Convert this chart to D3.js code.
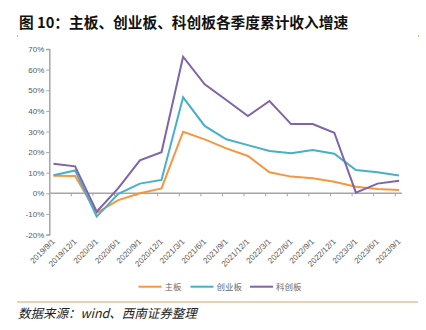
<!DOCTYPE html>
<html><head><meta charset="utf-8">
<script src="https://cdn.jsdelivr.net/npm/d3@7/dist/d3.min.js"></script>
<style>body{margin:0;background:#fff}svg{display:block}</style>
</head><body>
<svg id="c" width="426" height="330"></svg>
<script>
const categories = ["2019/9/1","2019/12/1","2020/3/1","2020/6/1","2020/9/1","2020/12/1","2021/3/1","2021/6/1","2021/9/1","2021/12/1","2022/3/1","2022/6/1","2022/9/1","2022/12/1","2023/3/1","2023/6/1","2023/9/1"];
const mainBoard = [8.5,8.4,-9.5,-3.3,0.0,2.4,29.9,26.2,21.8,18.1,10.2,8.1,7.3,5.6,3.2,2.1,1.6];
const chinext   = [8.8,11.1,-11.3,-0.3,4.7,6.5,46.6,32.7,26.2,23.4,20.5,19.4,21.0,19.2,11.3,10.2,8.6];
const star      = [14.4,13.1,-8.9,2.5,16.0,19.9,66.3,52.9,45.3,37.5,44.8,33.6,33.6,29.4,0.3,4.7,6.1];
const yTicks = [-20,-10,0,10,20,30,40,50,60,70];
const seriesNames = ["主板","创业板","科创板"];
const colors = ["#F7963F","#47AFCB","#8063A8"];

const svg = d3.select("#c");
const x = d3.scalePoint().domain(categories).range([53.5,399.1]);
const y = d3.scaleLinear().domain([-20,70]).range([234.5,49.1]);
const step = x.step();

// title
svg.append("text").attr("x",19).attr("y",27.5)
  .attr("font-family","'Noto Sans CJK SC'").attr("font-weight","bold")
  .attr("font-size",14.7).attr("fill","#111").text("图 10：主板、创业板、科创板各季度累计收入增速");
// faint corner marks
svg.append("rect").attr("x",17).attr("y",35).attr("width",1).attr("height",2).attr("fill","#E0B070");
svg.append("rect").attr("x",418).attr("y",35).attr("width",1).attr("height",2).attr("fill","#E0B070");

// y axis
const yAxis = d3.axisLeft(y).tickValues(yTicks).tickSize(3).tickFormat(d=>d+"%");
const gy = svg.append("g").attr("transform","translate(49.3,0)").call(yAxis);
gy.select(".domain").attr("stroke","#A6A6A6").attr("stroke-width",1.5);
gy.selectAll(".tick line").attr("stroke","#A6A6A6");
gy.selectAll("text").attr("font-family","'Liberation Sans',Arial").attr("font-size",8).attr("fill","#595959").attr("x",-5);

// x axis line at 0
svg.append("line").attr("x1",49.3).attr("x2",401.8).attr("y1",y(0)).attr("y2",y(0))
  .attr("stroke","#A6A6A6").attr("stroke-width",1.5);
svg.append("g").selectAll("line").data(categories.slice(1)).join("line")
  .attr("x1",d=>x(d)-step+17.8).attr("x2",d=>x(d)-step+17.8)
  .attr("y1",y(0)).attr("y2",y(0)+3).attr("stroke","#A6A6A6").attr("stroke-width",1);

// x labels rotated at bottom
svg.append("g").selectAll("text").data(categories).join("text")
  .attr("transform",d=>`translate(${x(d)},${240}) rotate(-45)`)
  .attr("text-anchor","end").attr("dy","0.35em")
  .attr("font-family","'Liberation Sans',Arial").attr("font-size",8).attr("fill","#595959")
  .text(d=>d);

// lines
const data = [mainBoard, chinext, star];
const line = d3.line().x((d,i)=>x(categories[i])).y(d=>y(d));
svg.append("g").selectAll("path").data(data).join("path")
  .attr("d",line).attr("fill","none")
  .attr("stroke",(d,i)=>colors[i]).attr("stroke-width",2).attr("stroke-linejoin","miter");

// legend
const legX = [138.5,190.5,250];
const lg = svg.append("g").selectAll("g").data(seriesNames).join("g")
  .attr("transform",(d,i)=>`translate(${legX[i]},286.7)`);
lg.append("line").attr("x1",0).attr("x2",23).attr("stroke",(d,i)=>colors[i]).attr("stroke-width",2);
lg.append("text").attr("x",26).attr("dy","0.35em")
  .attr("font-family","'Noto Sans CJK SC'").attr("font-size",8.5).attr("fill","#6a6a6a").text(d=>d);

// source
svg.append("line").attr("x1",17).attr("x2",418).attr("y1",302).attr("y2",302)
  .attr("stroke","#D9A45A").attr("stroke-width",1.2);
svg.append("text").attr("x",18).attr("y",318)
  .attr("font-family","'Noto Sans CJK SC'").attr("font-style","italic")
  .attr("font-size",12.5).attr("fill","#222").text("数据来源：wind、西南证券整理");
</script>
</body></html>
